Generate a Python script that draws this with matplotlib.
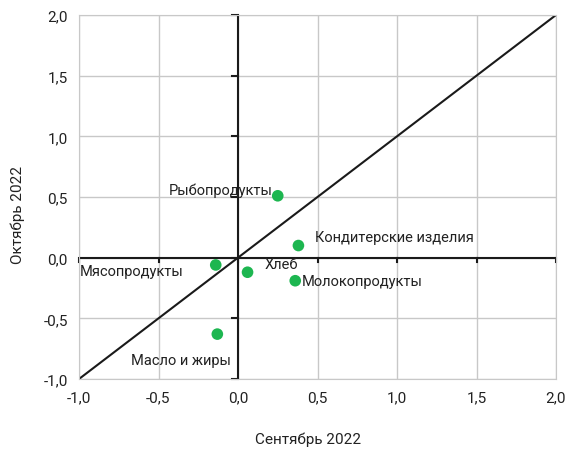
import matplotlib.pyplot as plt
import numpy as np
from matplotlib.ticker import MultipleLocator, FuncFormatter

plt.rcParams['font.family'] = ['Roboto', 'DejaVu Sans']

# данные
names = ['Рыбопродукты', 'Кондитерские изделия', 'Мясопродукты', 'Хлеб',
         'Молокопродукты', 'Масло и жиры']
sep_2022 = [0.25, 0.38, -0.14, 0.06, 0.36, -0.13]
oct_2022 = [0.51, 0.10, -0.06, -0.12, -0.19, -0.63]
# смещения подписей (в пунктах) и выравнивание
label_offsets = [(-4, 4), (12, 6), (-98, -4), (12, 6), (5, 0), (10, -19)]
label_ha = ['right', 'left', 'left', 'left', 'left', 'right']

fig = plt.figure(figsize=(5.68, 4.52), dpi=100)
ax = fig.add_axes([79 / 568, 1 - 380 / 452, 477 / 568, 364 / 452])

ax.set_xlim(-1, 2)
ax.set_ylim(-1, 2)
ax.xaxis.set_major_locator(MultipleLocator(0.5))
ax.yaxis.set_major_locator(MultipleLocator(0.5))
fmt = FuncFormatter(lambda v, p: f'{v:.1f}'.replace('.', ','))
ax.xaxis.set_major_formatter(fmt)
ax.yaxis.set_major_formatter(fmt)
ax.grid(color='#c8c8c8', linewidth=1)
ax.set_axisbelow(True)
for s in ax.spines.values():
    s.set_color('#c8c8c8')
ax.tick_params(length=0, labelsize=11, colors='#222222', pad=8)

# линия y = x
ax.plot([-1, 2], [-1, 2], color='#1a1a1a', linewidth=1.5, zorder=2)

# нулевые оси с засечками
ax.axhline(0, color='#1a1a1a', linewidth=1.5, zorder=2)
ax.axvline(0, color='#1a1a1a', linewidth=1.5, zorder=2)
ticks = np.arange(-1, 2.01, 0.5)
for t in ticks:
    ax.plot([t, t], [0, -0.035], color='#1a1a1a', linewidth=1.5, zorder=2, clip_on=False)
    ax.plot([0, -0.04], [t, t], color='#1a1a1a', linewidth=1.5, zorder=2, clip_on=False)

ax.scatter(sep_2022, oct_2022, s=70, color='#1db650', zorder=3, edgecolors='none')
for n, x, y, off, ha in zip(names, sep_2022, oct_2022, label_offsets, label_ha):
    ax.annotate(n, (x, y), xytext=off, textcoords='offset points', ha=ha,
                va='center', fontsize=10.5, color='#222222')

fig.text(308 / 568, 1 - 440 / 452, 'Сентябрь 2022', ha='center', va='center',
         fontsize=11, color='#222222')
fig.text(18 / 568, 1 - 215 / 452, 'Октябрь 2022', ha='center', va='center',
         rotation=90, fontsize=11, color='#222222')

fig.savefig('out.png', dpi=100)
